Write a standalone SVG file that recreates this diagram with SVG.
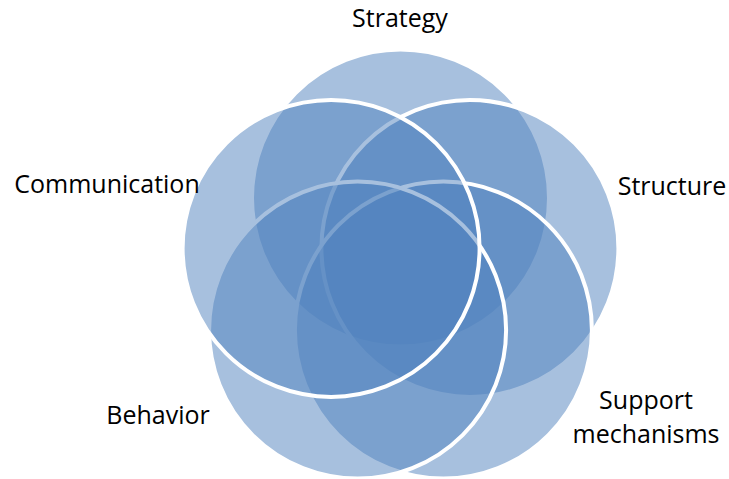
<svg xmlns="http://www.w3.org/2000/svg" width="729" height="479" viewBox="0 0 729 479">
  <style>
    .ring { fill: #4F81BD; fill-opacity: 0.5; stroke: #FFFFFF; stroke-width: 4; }
    .label { font-family: "Open Sans", "Liberation Sans", sans-serif; font-size: 25px; fill: #000000; text-anchor: middle; }
  </style>
  <rect width="729" height="479" fill="#FFFFFF"/>

  <!-- five overlapping circles arranged on a pentagon, drawn in stacking order -->
  <g id="strategy">
    <circle class="ring" cx="400.5" cy="198" r="148.5"/>
  </g>
  <g id="structure">
    <circle class="ring" cx="469.9" cy="248.4" r="148.5"/>
  </g>
  <g id="support-mechanisms">
    <circle class="ring" cx="443.4" cy="330.1" r="148.5"/>
  </g>
  <g id="behavior">
    <circle class="ring" cx="357.6" cy="330.1" r="148.5"/>
  </g>
  <g id="communication">
    <circle class="ring" cx="331.1" cy="248.4" r="148.5"/>
  </g>

  <!-- labels -->
  <g id="labels">
    <text class="label" x="400" y="27">Strategy</text>
    <text class="label" x="672" y="195">Structure</text>
    <text class="label" x="646" y="409">Support</text>
    <text class="label" x="646" y="443">mechanisms</text>
    <text class="label" x="158" y="424">Behavior</text>
    <text class="label" x="107" y="193">Communication</text>
  </g>
</svg>
